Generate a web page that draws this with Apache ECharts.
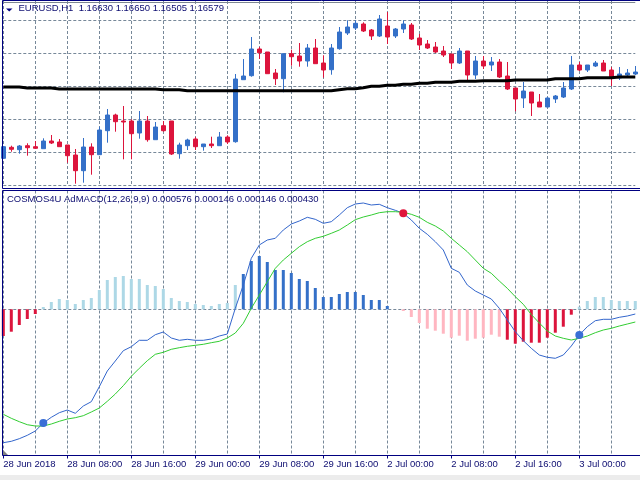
<!DOCTYPE html>
<html>
<head>
<meta charset="utf-8">
<title>EURUSD H1 AdMACD</title>
<script src="https://cdn.jsdelivr.net/npm/echarts@6/dist/echarts.min.js"></script>
<style>
html, body { margin: 0; padding: 0; background: #fff; }
#main { width: 640px; height: 480px; }
</style>
</head>
<body>
<div id="main"></div>
<script>
// EURUSD H1 bars, 28 Jun 2018 00:00 .. 3 Jul 2018 07:00
var openData = [
	1.15440, 1.15550, 1.15526, 1.15566, 1.15556, 1.15536, 1.15613, 1.15603, 1.15573, 1.15473,
	1.15316, 1.15553, 1.15476, 1.15716, 1.15873, 1.15813, 1.15813, 1.15693, 1.15813, 1.15626,
	1.15766, 1.15813, 1.15486, 1.15566, 1.15633, 1.15556, 1.15583, 1.15566, 1.15653, 1.15606,
	1.16226, 1.16266, 1.16533, 1.16503, 1.16293, 1.16236, 1.16486, 1.16463, 1.16413, 1.16543,
	1.16393, 1.16326, 1.16536, 1.16693, 1.16743, 1.16783, 1.16723, 1.16663, 1.16763, 1.16663,
	1.16733, 1.16773, 1.16643, 1.16583, 1.16553, 1.16513, 1.16483, 1.16393, 1.16513, 1.16273,
	1.16413, 1.16373, 1.16403, 1.16263, 1.16143, 1.16043, 1.16103, 1.16003, 1.15953, 1.16033,
	1.16053, 1.16133, 1.16373, 1.16323, 1.16363, 1.16393, 1.16323, 1.16243, 1.16273, 1.16283
];
var closeData = [
	1.15556, 1.15530, 1.15563, 1.15546, 1.15540, 1.15613, 1.15593, 1.15556, 1.15466, 1.15316,
	1.15553, 1.15476, 1.15723, 1.15873, 1.15806, 1.15803, 1.15686, 1.15813, 1.15626, 1.15753,
	1.15716, 1.15483, 1.15573, 1.15623, 1.15556, 1.15583, 1.15566, 1.15653, 1.15603, 1.16233,
	1.16263, 1.16533, 1.16496, 1.16286, 1.16236, 1.16486, 1.16456, 1.16413, 1.16543, 1.16386,
	1.16323, 1.16543, 1.16703, 1.16753, 1.16790, 1.16713, 1.16663, 1.16833, 1.16653, 1.16733,
	1.16783, 1.16633, 1.16573, 1.16543, 1.16503, 1.16473, 1.16393, 1.16513, 1.16273, 1.16413,
	1.16363, 1.16403, 1.16253, 1.16133, 1.16033, 1.16113, 1.15993, 1.15953, 1.16043, 1.16063,
	1.16143, 1.16373, 1.16323, 1.16373, 1.16393, 1.16313, 1.16253, 1.16283, 1.16293, 1.16303
];
var lowData = [
	1.15433, 1.15506, 1.15486, 1.15466, 1.15540, 1.15536, 1.15583, 1.15556, 1.15396, 1.15186,
	1.15196, 1.15276, 1.15476, 1.15596, 1.15706, 1.15430, 1.15430, 1.15636, 1.15606, 1.15626,
	1.15706, 1.15473, 1.15436, 1.15523, 1.15523, 1.15516, 1.15543, 1.15566, 1.15583, 1.15596,
	1.16226, 1.16256, 1.16433, 1.16286, 1.16173, 1.16100, 1.16366, 1.16356, 1.16356, 1.16386,
	1.16246, 1.16276, 1.16526, 1.16673, 1.16723, 1.16703, 1.16623, 1.16653, 1.16583, 1.16643,
	1.16693, 1.16623, 1.16523, 1.16533, 1.16493, 1.16453, 1.16333, 1.16383, 1.16223, 1.16233,
	1.16333, 1.16313, 1.16243, 1.16123, 1.15910, 1.15943, 1.15863, 1.15953, 1.15953, 1.15993,
	1.16043, 1.16123, 1.16313, 1.16303, 1.16353, 1.16313, 1.16163, 1.16223, 1.16263, 1.16273
];
var highData = [
	1.15563, 1.15566, 1.15573, 1.15590, 1.15613, 1.15640, 1.15673, 1.15633, 1.15573, 1.15533,
	1.15643, 1.15590, 1.15756, 1.15933, 1.15886, 1.15963, 1.15830, 1.15913, 1.15863, 1.15803,
	1.15813, 1.15813, 1.15596, 1.15636, 1.15653, 1.15583, 1.15656, 1.15703, 1.15670, 1.16283,
	1.16433, 1.16653, 1.16553, 1.16503, 1.16333, 1.16486, 1.16526, 1.16593, 1.16583, 1.16633,
	1.16470, 1.16583, 1.16753, 1.16820, 1.16820, 1.16800, 1.16733, 1.16873, 1.16903, 1.16743,
	1.16820, 1.16793, 1.16683, 1.16623, 1.16603, 1.16563, 1.16483, 1.16543, 1.16513, 1.16463,
	1.16463, 1.16453, 1.16433, 1.16403, 1.16143, 1.16203, 1.16103, 1.16083, 1.16053, 1.16073,
	1.16203, 1.16463, 1.16403, 1.16373, 1.16413, 1.16423, 1.16353, 1.16353, 1.16333, 1.16363
];
// moving average (black line)
var maData = [
	1.16153, 1.16153, 1.16153, 1.16143, 1.16143, 1.16143, 1.16143, 1.16133, 1.16133, 1.16133,
	1.16133, 1.16133, 1.16133, 1.16133, 1.16133, 1.16133, 1.16133, 1.16133, 1.16133, 1.16133,
	1.16126, 1.16126, 1.16126, 1.16116, 1.16116, 1.16116, 1.16116, 1.16116, 1.16116, 1.16116,
	1.16116, 1.16116, 1.16116, 1.16116, 1.16116, 1.16116, 1.16116, 1.16116, 1.16116, 1.16116,
	1.16116, 1.16116, 1.16126, 1.16136, 1.16136, 1.16146, 1.16160, 1.16160, 1.16170, 1.16170,
	1.16180, 1.16180, 1.16190, 1.16190, 1.16200, 1.16200, 1.16200, 1.16210, 1.16210, 1.16210,
	1.16216, 1.16216, 1.16216, 1.16216, 1.16223, 1.16223, 1.16223, 1.16223, 1.16223, 1.16236,
	1.16236, 1.16236, 1.16236, 1.16246, 1.16246, 1.16246, 1.16246, 1.16253, 1.16253, 1.16253
];
var bidLevel = 1.16573;

// AdMACD histogram
var histData = [
	-0.000267, -0.000224, -0.000157, -0.000097, -0.000047, 0.000023, 0.000073, 0.000103, 0.000093, 0.000053,
	0.000093, 0.000113, 0.000193, 0.000293, 0.000323, 0.000333, 0.000303, 0.000303, 0.000243, 0.000233,
	0.000203, 0.000113, 0.000083, 0.000073, 0.000053, 0.000043, 0.000033, 0.000053, 0.000063, 0.000243,
	0.000353, 0.000483, 0.000533, 0.000473, 0.000393, 0.000393, 0.000363, 0.000303, 0.000283, 0.000213,
	0.000123, 0.000123, 0.000153, 0.000173, 0.000173, 0.000143, 0.000093, 0.000093, 0.000033, 0.000000,
	-0.000017, -0.000077, -0.000137, -0.000194, -0.000214, -0.000244, -0.000284, -0.000264, -0.000314, -0.000294,
	-0.000284, -0.000254, -0.000274, -0.000304, -0.000344, -0.000324, -0.000334, -0.000334, -0.000284, -0.000234,
	-0.000174, -0.000054, 0.000026, 0.000083, 0.000123, 0.000123, 0.000093, 0.000083, 0.000083, 0.000083
];
// colour buffer of each histogram bar: R red, P pink, L light blue, B blue
var histState = ('RRRRR' + 'LLLLLLLLLLLLLLLLLLLLLLLLL' + 'BBBBBBBBBBBBBBBBBBBB' +
	'PPPPPPPPPPPPP' + 'RRRRRRRRR' + 'LLLLLLLL').split('');
var macdData = [
	-0.001334, -0.001320, -0.001294, -0.001260, -0.001217, -0.001137, -0.001080, -0.001034, -0.001007, -0.001040,
	-0.000967, -0.000924, -0.000774, -0.000617, -0.000517, -0.000414, -0.000374, -0.000310, -0.000310, -0.000254,
	-0.000227, -0.000287, -0.000310, -0.000300, -0.000310, -0.000310, -0.000297, -0.000267, -0.000247, 0.000010,
	0.000243, 0.000510, 0.000643, 0.000693, 0.000710, 0.000793, 0.000853, 0.000883, 0.000920, 0.000900,
	0.000860, 0.000876, 0.000943, 0.001016, 0.001053, 0.001063, 0.001043, 0.001050, 0.001016, 0.000990,
	0.000960, 0.000893, 0.000810, 0.000750, 0.000676, 0.000593, 0.000410, 0.000370, 0.000243, 0.000183,
	0.000143, 0.000103, 0.000010, -0.000107, -0.000224, -0.000314, -0.000390, -0.000457, -0.000480, -0.000490,
	-0.000457, -0.000367, -0.000257, -0.000174, -0.000114, -0.000100, -0.000100, -0.000080, -0.000067, -0.000047
];
var signalData = [
	-0.001050, -0.001090, -0.001124, -0.001154, -0.001167, -0.001167, -0.001147, -0.001120, -0.001097, -0.001084,
	-0.001064, -0.001027, -0.000987, -0.000920, -0.000847, -0.000764, -0.000670, -0.000590, -0.000514, -0.000450,
	-0.000430, -0.000400, -0.000384, -0.000370, -0.000360, -0.000350, -0.000334, -0.000320, -0.000287, -0.000237,
	-0.000140, 0.000010, 0.000143, 0.000276, 0.000410, 0.000493, 0.000560, 0.000626, 0.000676, 0.000710,
	0.000730, 0.000760, 0.000793, 0.000843, 0.000896, 0.000923, 0.000943, 0.000966, 0.000976, 0.000976,
	0.000970, 0.000950, 0.000920, 0.000870, 0.000833, 0.000783, 0.000710, 0.000643, 0.000576, 0.000493,
	0.000410, 0.000360, 0.000283, 0.000210, 0.000126, 0.000050, -0.000052, -0.000137, -0.000217, -0.000267,
	-0.000290, -0.000307, -0.000290, -0.000267, -0.000234, -0.000207, -0.000190, -0.000167, -0.000147, -0.000127
];
// bars where macd crosses the signal line
var crossUp = [5, 72];
var crossDown = [50];

var tickLabels = ['28 Jun 2018', '28 Jun 08:00', '28 Jun 16:00', '29 Jun 00:00', '29 Jun 08:00',
	'29 Jun 16:00', '2 Jul 00:00', '2 Jul 08:00', '2 Jul 16:00', '3 Jul 00:00'];
var days = ['28 Jun', '29 Jun', '2 Jul', '3 Jul'];
var dayBars = [24, 24, 24, 8];

var histColors = { R: '#dc143c', P: '#ffb6c1', L: '#add8e6', B: '#3470c8' };
var frameColor = '#000080';
var textColor = '#0c0c70';
var gridColor = '#778899';
var font = 'Liberation Sans';

var categories = [];
days.forEach(function(d, k) {
	for (var h = 0; h < dayBars[k]; h++) {
		categories.push(d + ' ' + (h < 10 ? '0' : '') + h + ':00');
	}
});

var candleData = openData.map(function(o, i) {
	return [o, closeData[i], lowData[i], highData[i]];
});
var barData = histData.map(function(v, i) {
	return { value: v, itemStyle: { color: histColors[histState[i]] } };
});
var upDots = crossUp.map(function(i) { return [i, macdData[i]]; });
var downDots = crossDown.map(function(i) { return [i, macdData[i]]; });

function frameLine(x1, y1, x2, y2) {
	return {
		type: 'line', z: 100, silent: true,
		shape: { x1: x1, y1: y1, x2: x2, y2: y2 },
		style: { stroke: frameColor, lineWidth: 1 }
	};
}

var dashed = { show: true, lineStyle: { color: gridColor, type: [3, 2], width: 1 } };

var mainChart = echarts.init(document.getElementById('main'), null, { renderer: 'canvas' });
mainChart.setOption({
	animation: false,
	backgroundColor: '#ffffff',
	title: [{
		text: 'EURUSD,H1  1.16630 1.16650 1.16505 1.16579',
		left: 18.5,
		top: 3.5,
		padding: 0,
		textStyle: { color: textColor, fontSize: 9.5, fontWeight: 'normal', fontFamily: font }
	}, {
		text: 'COSMOS4U AdMACD(12,26,9,9) 0.000576 0.000146 0.000146 0.000430',
		left: 7,
		top: 194.5,
		padding: 0,
		textStyle: { color: textColor, fontSize: 9.5, fontWeight: 'normal', fontFamily: font }
	}],
	graphic: [
		frameLine(2.5, 0.5, 640, 0.5),
		frameLine(2.5, 0.5, 2.5, 188.5),
		frameLine(2.5, 188.5, 640, 188.5),
		frameLine(2.5, 190.5, 640, 190.5),
		frameLine(2.5, 190.5, 2.5, 455.5),
		frameLine(2.5, 455.5, 640, 455.5),
		{
			type: 'polygon', z: 100, silent: true,
			shape: { points: [[6, 8.5], [12.5, 8.5], [9.25, 11.5]] },
			style: { fill: frameColor }
		},
		{
			type: 'polygon', z: 100, silent: true,
			shape: { points: [[3, 450], [3, 455], [8, 455]] },
			style: { fill: '#808080' }
		},
		{
			type: 'rect', z: 100, silent: true,
			shape: { x: 0, y: 475, width: 640, height: 5 },
			style: { fill: '#ececec' }
		}
	],
	grid: [
		{ left: 3.3, right: 4.7, top: 1, height: 184.3 },
		{ left: 3.3, right: 4.7, top: 190.5, height: 265 }
	],
	xAxis: [{
		type: 'category',
		gridIndex: 0,
		data: categories,
		boundaryGap: false,
		axisLine: { show: false },
		axisTick: { show: false },
		axisLabel: { show: false },
		splitLine: { show: true, interval: 3, lineStyle: dashed.lineStyle }
	}, {
		type: 'category',
		gridIndex: 1,
		data: categories,
		boundaryGap: false,
		axisLine: { show: true, onZero: false, lineStyle: { color: frameColor, width: 1 } },
		axisTick: { show: true, interval: 7, length: 3, lineStyle: { color: frameColor } },
		axisLabel: {
			show: true,
			interval: 7,
			align: 'left',
			margin: 4,
			color: textColor,
			fontSize: 9.5,
			fontFamily: font,
			formatter: function(v, idx) {
				return tickLabels[idx / 8] || '';
			}
		},
		splitLine: { show: true, interval: 3, lineStyle: dashed.lineStyle }
	}],
	yAxis: [{
		type: 'value',
		gridIndex: 0,
		position: 'right',
		min: 1.1517,
		max: 1.17013,
		interval: 0.0033,
		axisLine: { show: false },
		axisTick: { show: false },
		axisLabel: { show: false },
		splitLine: { show: true, showMinLine: true, showMaxLine: false, lineStyle: dashed.lineStyle }
	}, {
		type: 'value',
		gridIndex: 1,
		position: 'right',
		min: -0.001462,
		max: 0.001188,
		interval: 0.001462,
		axisLine: { show: false },
		axisTick: { show: false },
		axisLabel: { show: false },
		splitLine: { show: true, showMinLine: false, showMaxLine: false, lineStyle: dashed.lineStyle }
	}],
	series: [{
		name: 'EURUSD,H1',
		type: 'candlestick',
		xAxisIndex: 0,
		yAxisIndex: 0,
		barWidth: 4,
		clip: false,
		z: 2,
		itemStyle: {
			color: '#3470c8',
			color0: '#dc143c',
			borderColor: '#3470c8',
			borderColor0: '#dc143c',
			borderWidth: 1
		},
		markLine: {
			silent: true,
			symbol: ['none', 'none'],
			label: { show: false },
			lineStyle: { color: '#7d8791', type: 'solid', width: 1 },
			data: [{ yAxis: bidLevel }]
		},
		data: candleData
	}, {
		name: 'MA',
		type: 'line',
		xAxisIndex: 0,
		yAxisIndex: 0,
		showSymbol: false,
		z: 3,
		lineStyle: { color: '#000000', width: 3 },
		data: maData
	}, {
		name: 'hist',
		type: 'bar',
		xAxisIndex: 1,
		yAxisIndex: 1,
		barWidth: 3,
		clip: false,
		z: 2,
		data: barData
	}, {
		name: 'macd',
		type: 'line',
		xAxisIndex: 1,
		yAxisIndex: 1,
		showSymbol: false,
		z: 3,
		lineStyle: { color: '#3366cc', width: 1 },
		data: macdData
	}, {
		name: 'signal',
		type: 'line',
		xAxisIndex: 1,
		yAxisIndex: 1,
		showSymbol: false,
		z: 3,
		lineStyle: { color: '#32cd32', width: 1 },
		data: signalData
	}, {
		name: 'cross up',
		type: 'scatter',
		xAxisIndex: 1,
		yAxisIndex: 1,
		symbolSize: 8,
		z: 4,
		itemStyle: { color: '#3a6fd6', opacity: 1 },
		data: upDots
	}, {
		name: 'cross down',
		type: 'scatter',
		xAxisIndex: 1,
		yAxisIndex: 1,
		symbolSize: 8,
		z: 4,
		itemStyle: { color: '#e0163c', opacity: 1 },
		data: downDots
	}]
});
</script>
</body>
</html>
